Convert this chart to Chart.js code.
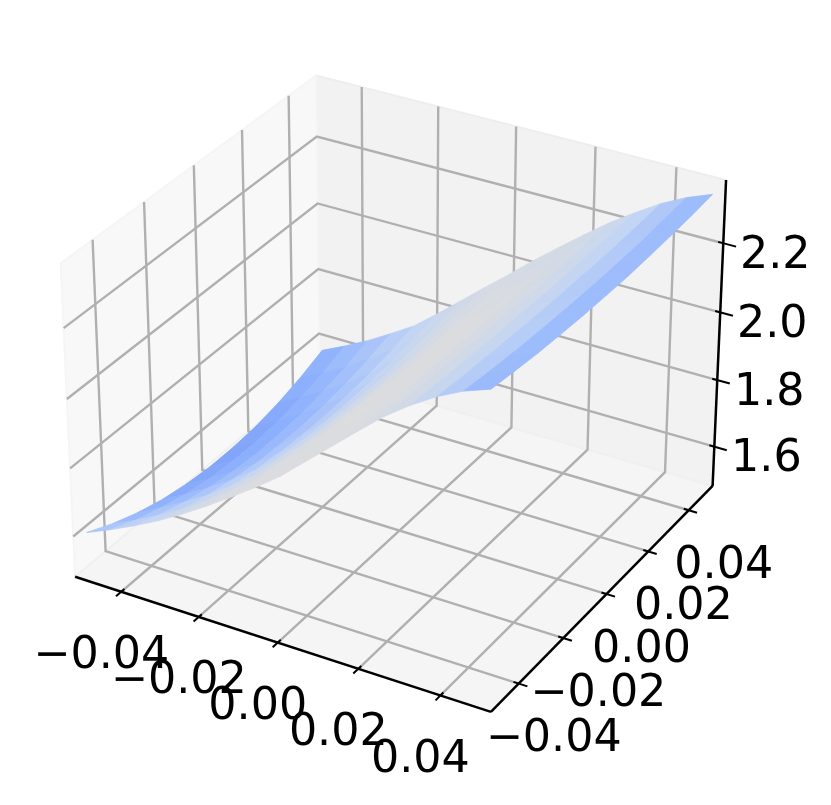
<!DOCTYPE html>
<html>
<head>
<meta charset="utf-8">
<style>html,body{margin:0;padding:0;background:#fff}canvas{display:block}</style>
<script src="https://cdn.jsdelivr.net/npm/chart.js@4"></script>
</head>
<body>
<canvas id="c" width="831" height="805"></canvas>
<script>
const xTicks = [-0.04, -0.02, 0.00, 0.02, 0.04];
const yTicks = [-0.04, -0.02, 0.00, 0.02, 0.04];
const zTicks = [1.6, 1.8, 2.0, 2.2];
const xLabels = ["\u22120.04", "\u22120.02", "0.00", "0.02", "0.04"];
const yLabels = ["\u22120.04", "\u22120.02", "0.00", "0.02", "0.04"];
const zLabels = ["1.6", "1.8", "2.0", "2.2"];
const xLim = [-0.0521, 0.0521];
const yLim = [-0.0521, 0.0521];
const zLim = [1.48, 2.38];
const xGrid = [-0.05, -0.04375, -0.0375, -0.03125, -0.025, -0.01875, -0.0125, -0.00625, 0, 0.00625, 0.0125, 0.01875, 0.025, 0.03125, 0.0375, 0.04375, 0.05];
const yGrid = [-0.05, -0.04, -0.03, -0.02, -0.01, 0, 0.01, 0.02, 0.03, 0.04, 0.05];
const surfaceZ = [
 [1.606,1.570,1.541,1.519,1.505,1.497,1.497,1.503,1.517,1.538,1.566],
 [1.637,1.603,1.578,1.557,1.543,1.537,1.536,1.542,1.555,1.574,1.600],
 [1.671,1.641,1.617,1.599,1.586,1.580,1.580,1.585,1.597,1.613,1.637],
 [1.708,1.681,1.660,1.644,1.633,1.628,1.628,1.633,1.643,1.658,1.679],
 [1.750,1.727,1.710,1.696,1.686,1.682,1.681,1.685,1.693,1.706,1.723],
 [1.795,1.778,1.764,1.754,1.747,1.744,1.744,1.748,1.755,1.766,1.780],
 [1.843,1.831,1.822,1.815,1.811,1.810,1.810,1.814,1.821,1.828,1.840],
 [1.893,1.887,1.881,1.878,1.877,1.877,1.878,1.881,1.886,1.892,1.900],
 [1.947,1.944,1.943,1.943,1.942,1.943,1.944,1.947,1.951,1.954,1.959],
 [2.010,2.008,2.007,2.006,2.006,2.007,2.008,2.010,2.013,2.016,2.020],
 [2.073,2.071,2.070,2.069,2.069,2.069,2.069,2.071,2.072,2.075,2.077],
 [2.136,2.134,2.131,2.130,2.129,2.129,2.128,2.129,2.130,2.131,2.133],
 [2.198,2.194,2.191,2.188,2.186,2.185,2.183,2.183,2.184,2.185,2.187],
 [2.250,2.245,2.241,2.238,2.234,2.233,2.231,2.232,2.232,2.233,2.235],
 [2.295,2.288,2.284,2.279,2.276,2.274,2.273,2.272,2.273,2.276,2.280],
 [2.331,2.323,2.316,2.311,2.308,2.305,2.304,2.305,2.306,2.312,2.316],
 [2.357,2.348,2.340,2.335,2.331,2.329,2.328,2.330,2.333,2.337,2.344]
];
const surfaceColorValue = [
 [.33,.28,.25,.23,.22,.21,.21,.22,.23,.24,.25],
 [.37,.32,.29,.26,.24,.23,.23,.24,.25,.27,.28],
 [.41,.36,.32,.29,.27,.26,.26,.27,.28,.30,.31],
 [.44,.40,.36,.33,.31,.30,.30,.30,.31,.33,.34],
 [.46,.43,.40,.37,.35,.34,.33,.34,.35,.37,.38],
 [.48,.46,.44,.41,.39,.38,.37,.38,.39,.40,.41],
 [.49,.48,.47,.45,.43,.42,.41,.42,.43,.43,.44],
 [.49,.49,.49,.48,.47,.46,.45,.45,.45,.46,.46],
 [.49,.49,.50,.50,.49,.49,.48,.48,.48,.47,.47],
 [.49,.49,.49,.49,.49,.50,.49,.49,.48,.47,.46],
 [.48,.49,.49,.49,.49,.49,.49,.48,.47,.46,.45],
 [.47,.48,.48,.48,.48,.48,.48,.48,.47,.46,.45],
 [.46,.47,.46,.46,.46,.46,.46,.45,.45,.44,.43],
 [.43,.43,.43,.43,.43,.42,.42,.42,.41,.41,.40],
 [.38,.38,.38,.38,.38,.37,.37,.37,.36,.36,.36],
 [.31,.31,.32,.32,.32,.32,.32,.32,.31,.31,.31],
 [.26,.26,.26,.26,.26,.26,.26,.27,.27,.27,.27]
];

// matplotlib-style view: elev 30, azim -60, box 4:4:3, perspective distance 10
const boxA = 0.5714, boxC = 0.4286;
const U = [0.866, 0.5, 0], V = [-0.25, 0.433, 0.866], D = [0.433, -0.75, 0.5];
const originX = 399.5, originY = 379, viewScale = 417;
function frac(v, lim) { return (v - lim[0]) / (lim[1] - lim[0]); }
function rel(fx, fy, fz) { return [boxA * (2 * fx - 1), boxA * (2 * fy - 1), boxC * (2 * fz - 1)]; }
function dot(a, b) { return a[0] * b[0] + a[1] * b[1] + a[2] * b[2]; }
function project(fx, fy, fz) {
  const q = rel(fx, fy, fz), w = 1 - dot(q, D) / 10;
  return { x: originX + viewScale * dot(q, U) / w, y: originY - viewScale * dot(q, V) / w };
}
function depth(fx, fy, fz) { return dot(rel(fx, fy, fz), D); }

const stops = [[0, 58, 76, 192], [.125, 98, 130, 234], [.25, 141, 176, 254], [.375, 192, 212, 245], [.5, 221, 221, 221]];
function coolwarm(t) {
  for (let i = 1; i < stops.length; i++) {
    if (t <= stops[i][0]) {
      const a = stops[i - 1], b = stops[i], k = (t - a[0]) / (b[0] - a[0]);
      return `rgb(${[1, 2, 3].map(n => Math.round(a[n] + (b[n] - a[n]) * k)).join(',')})`;
    }
  }
  return 'rgb(221,221,221)';
}

function lineDs(points, color, width) {
  return { data: points, showLine: true, fill: false, borderColor: color, borderWidth: width,
           pointRadius: 0, tension: 0, borderCapStyle: 'butt', borderJoinStyle: 'miter' };
}
function polyDs(points, fillColor, edgeColor, edgeWidth) {
  return { data: points.concat([points[0]]), showLine: true, fill: 'shape', backgroundColor: fillColor,
           borderColor: edgeColor, borderWidth: edgeWidth, pointRadius: 0, tension: 0, borderJoinStyle: 'round' };
}

// surface cells, nearest to the viewer first (Chart.js paints the first dataset last)
const cells = [];
for (let i = 0; i < xGrid.length - 1; i++) {
  for (let j = 0; j < yGrid.length - 1; j++) {
    const corners = [[i, j], [i + 1, j], [i + 1, j + 1], [i, j + 1]].map(([a, b]) =>
      [frac(xGrid[a], xLim), frac(yGrid[b], yLim), frac(surfaceZ[a][b], zLim)]);
    const mid = [0, 1, 2].map(k => corners.reduce((s, c) => s + c[k], 0) / 4);
    const t = (surfaceColorValue[i][j] + surfaceColorValue[i + 1][j] + surfaceColorValue[i + 1][j + 1] + surfaceColorValue[i][j + 1]) / 4;
    cells.push({ depth: depth(mid[0], mid[1], mid[2]), pts: corners.map(c => project(c[0], c[1], c[2])), color: coolwarm(t) });
  }
}
cells.sort((a, b) => b.depth - a.depth);

const datasets = [];
cells.forEach(c => datasets.push(polyDs(c.pts, c.color, c.color, 0.8)));

// axis lines and ticks
const tickIn = 0.012, tickOut = 0.02, tickOutZ = 0.03;
const axisColor = '#000000', gridColor = '#b0b0b0', axisW = 2.5, gridW = 2.4;
datasets.push(lineDs([project(0, 0, 0), project(1, 0, 0)], axisColor, axisW));
datasets.push(lineDs([project(1, 0, 0), project(1, 1, 0)], axisColor, axisW));
datasets.push(lineDs([project(1, 1, 0), project(1, 1, 1)], axisColor, axisW));
xTicks.forEach(v => { const f = frac(v, xLim); datasets.push(lineDs([project(f, -tickOut, 0), project(f, tickIn, 0)], axisColor, 2)); });
yTicks.forEach(v => { const f = frac(v, yLim); datasets.push(lineDs([project(1 - tickIn, f, 0), project(1 + tickOut, f, 0)], axisColor, 2)); });
zTicks.forEach(v => { const f = frac(v, zLim); datasets.push(lineDs([project(1 - tickIn, 1, f), project(1 + tickOutZ, 1, f)], axisColor, 2)); });

// grid on the three panes
xTicks.forEach(v => { const f = frac(v, xLim); datasets.push(lineDs([project(f, 0, 0), project(f, 1, 0), project(f, 1, 1)], gridColor, gridW)); });
yTicks.forEach(v => { const f = frac(v, yLim); datasets.push(lineDs([project(1, f, 0), project(0, f, 0), project(0, f, 1)], gridColor, gridW)); });
zTicks.forEach(v => { const f = frac(v, zLim); datasets.push(lineDs([project(0, 0, f), project(0, 1, f), project(1, 1, f)], gridColor, gridW)); });

// panes
datasets.push(polyDs([project(0, 0, 0), project(1, 0, 0), project(1, 1, 0), project(0, 1, 0)], '#f5f5f5', '#f0f0f0', 2));
datasets.push(polyDs([project(0, 0, 0), project(0, 1, 0), project(0, 1, 1), project(0, 0, 1)], '#f8f8f8', '#f5f5f5', 2));
datasets.push(polyDs([project(0, 1, 0), project(1, 1, 0), project(1, 1, 1), project(0, 1, 1)], '#f2f2f2', '#eeeeee', 2));

const tickText = {
  id: 'tickText',
  afterDraw(chart) {
    const { ctx, scales } = chart;
    ctx.save();
    ctx.fillStyle = '#000';
    ctx.font = '44.4px "DejaVu Sans"';
    ctx.textAlign = 'center';
    ctx.textBaseline = 'middle';
    const put = (label, p, dx, dy) => ctx.fillText(label, scales.x.getPixelForValue(p.x) + dx, scales.y.getPixelForValue(p.y) + dy);
    xTicks.forEach((v, i) => put(xLabels[i], project(frac(v, xLim), 0, 0), -20, 65));
    yTicks.slice().reverse().forEach((v, i) => put(yLabels[yTicks.length - 1 - i], project(1, frac(v, yLim), 0), 35, 56));
    zTicks.forEach((v, i) => put(zLabels[i], project(1, 1, frac(v, zLim)), 52, 13));
    ctx.restore();
  }
};

new Chart(document.getElementById('c'), {
  type: 'scatter',
  data: { datasets },
  plugins: [tickText],
  options: {
    responsive: false,
    animation: false,
    events: [],
    layout: { padding: 0 },
    plugins: { legend: { display: false }, tooltip: { enabled: false } },
    scales: {
      x: { type: 'linear', min: 0, max: 831, display: false },
      y: { type: 'linear', min: 0, max: 805, reverse: true, display: false }
    }
  }
});
</script>
</body>
</html>
